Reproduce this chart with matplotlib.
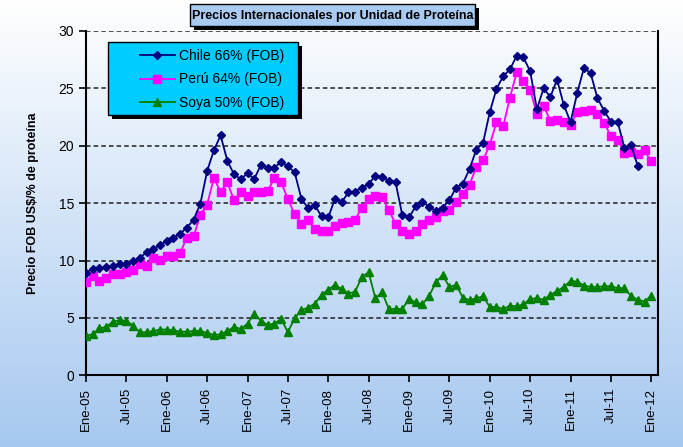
import numpy as np
import matplotlib
matplotlib.use('Agg')
import matplotlib.pyplot as plt
from matplotlib.patches import Rectangle

plt.rcParams['font.family'] = ['Liberation Sans', 'DejaVu Sans']

# monthly data, Ene-05 .. Ene-12
tick_labels = ['Ene-05', 'Jul-05', 'Ene-06', 'Jul-06', 'Ene-07', 'Jul-07', 'Ene-08',
               'Jul-08', 'Ene-09', 'Jul-09', 'Ene-10', 'Jul-10', 'Ene-11', 'Jul-11', 'Ene-12']

chile = [8.95, 9.27, 9.32, 9.4, 9.55, 9.66, 9.66, 9.94, 10.26, 10.7, 11.0, 11.36, 11.7, 12.0,
         12.35, 12.87, 13.57, 14.96, 17.8, 19.6, 20.9,
         18.7, 17.5, 17.1, 17.6, 17.1, 18.35, 18.1, 18.1, 18.6, 18.2, 17.7, 15.4, 14.56, 14.8,
         13.86, 13.75, 15.4, 15.08, 15.95, 16.0, 16.36,
         16.65, 17.4, 17.3, 16.94, 16.8, 13.97, 13.75, 14.73, 15.14, 14.67, 14.33, 14.62, 15.26,
         16.36, 16.7, 17.98, 19.67, 20.25, 22.93, 24.96, 26.07, 26.65,
         27.85, 27.7, 26.5, 23.2, 25.0, 24.26, 25.76, 23.56, 22.06, 24.6, 26.8, 26.3, 24.15,
         23.04, 22.1, 22.1, 19.84, 20.08, 18.22]

peru = [8.1, 8.63, 8.23, 8.49, 8.83, 8.83, 8.98, 9.21, 9.68, 9.56, 10.2, 10.08, 10.4, 10.4,
        10.67, 12.0, 12.1, 14.0, 14.88, 17.17, 16.0,
        16.8, 15.26, 15.95, 15.6, 15.95, 16.0, 16.07, 17.17, 16.8, 15.37, 14.04, 13.2, 13.57,
        12.76, 12.58, 12.58, 13.05, 13.28, 13.34, 13.57, 14.62,
        15.37, 15.66, 15.54, 14.38, 13.22, 12.58, 12.35, 12.58, 13.22, 13.57, 13.8, 14.33, 14.38,
        15.08, 15.84, 16.6, 18.16, 18.74, 20.08, 22.06, 21.7, 24.2,
        26.4, 25.66, 24.9, 22.75, 23.5, 22.17, 22.23, 22.1, 21.77, 22.98, 23.0, 23.1, 22.75,
        22.0, 20.84, 20.5, 19.4, 19.5, 19.27, 19.6, 18.63]

soya = [3.46, 3.57, 4.1, 4.21, 4.68, 4.8, 4.74, 4.33, 3.75, 3.75, 3.86, 3.98, 3.98, 3.92,
        3.8, 3.8, 3.86, 3.86, 3.69, 3.51, 3.57,
        3.86, 4.21, 4.04, 4.5, 5.38, 4.74, 4.39, 4.5, 4.91, 3.75, 4.97, 5.67, 5.9, 6.25, 7.0,
        7.47, 7.88, 7.53, 7.12, 7.3, 8.57,
        8.98, 6.71, 7.24, 5.78, 5.78, 5.78, 6.65, 6.36, 6.19, 6.94, 8.1, 8.74, 7.7, 7.88, 6.77,
        6.54, 6.71, 6.89, 5.96, 5.96, 5.78, 6.07,
        6.0, 6.19, 6.65, 6.71, 6.6, 7.0, 7.35, 7.7, 8.22, 8.16, 7.82, 7.7, 7.7, 7.76, 7.76,
        7.59, 7.59, 6.89, 6.6, 6.42, 6.94]

W, H = 683, 447
fig = plt.figure(figsize=(W / 100, H / 100), dpi=100)


def fx(px):
    return px / W


def fy(py):
    return 1 - py / H


# background gradient over the whole figure
bg = fig.add_axes([0, 0, 1, 1], zorder=-10)
grad = np.linspace(0, 1, 256).reshape(-1, 1)
top = np.array([1.0, 1.0, 1.0])
bottom = np.array([166, 200, 240]) / 255
img = top + (bottom - top) * grad[:, :, None]
bg.imshow(img, aspect='auto', extent=[0, 1, 0, 1])
bg.axis('off')

ax = fig.add_axes([fx(86), fy(375.3), fx(658) - fx(86), fy(31) - fy(375.3)])
ax.patch.set_alpha(0)

x = np.arange(len(peru))
ax.plot(x[:len(chile)], chile, color='#000080', lw=1.3, marker='D', ms=4.2,
        label='Chile 66% (FOB)', zorder=4)
ax.plot(x, peru, color='#FF00FF', lw=1.3, marker='s', ms=6,
        label='Perú 64% (FOB)', zorder=3)
ax.plot(x, soya, color='#008000', lw=1.3, marker='^', ms=6,
        label='Soya 50% (FOB)', zorder=3)

ax.set_xlim(0, 85)
ax.set_ylim(0, 30)
ax.set_yticks(range(0, 31, 5))
ax.set_xticks(range(0, 85, 6))
ax.set_xticklabels(tick_labels, rotation=90, fontsize=9.5)
ax.tick_params(axis='y', labelsize=10, length=5, width=1.2, direction='out')
ax.tick_params(axis='x', length=5, width=1.2, direction='out', pad=4)

for v in range(5, 31, 5):
    ax.axhline(v, color='#222222', lw=1.1, ls=(0, (3, 2)), zorder=1)

ax.spines['top'].set_visible(False)
for s in ['left', 'bottom', 'right']:
    ax.spines[s].set_linewidth(1.5)
    ax.spines[s].set_color('black')

ax.set_ylabel('Precio FOB US$/% de proteína', fontsize=9, fontweight='bold', labelpad=14)

# title box with shadow
ax.add_patch(Rectangle((fx(194), fy(30)), fx(285), fy(8) - fy(30), transform=fig.transFigure,
                       facecolor='black', edgecolor='none', zorder=5, clip_on=False))
ax.add_patch(Rectangle((fx(190), fy(26)), fx(285), fy(4) - fy(26), transform=fig.transFigure,
                       facecolor='#A9CBF2', edgecolor='black', lw=1, zorder=6, clip_on=False))
ax.text(fx(332.5), fy(15.5), 'Precios Internacionales por Unidad de Proteína',
        transform=fig.transFigure, fontsize=9, fontweight='bold',
        ha='center', va='center', zorder=7)

# legend box with shadow
ax.add_patch(Rectangle((fx(112), fy(119)), fx(190), fy(46) - fy(119), transform=fig.transFigure,
                       facecolor='black', edgecolor='none', zorder=5, clip_on=False))
ax.add_patch(Rectangle((fx(108), fy(115)), fx(190), fy(42) - fy(115), transform=fig.transFigure,
                       facecolor='#00CCFF', edgecolor='black', lw=1, zorder=6, clip_on=False))
leg = ax.legend(loc='upper left', bbox_to_anchor=(fx(133), fy(42)),
                bbox_transform=fig.transFigure,
                frameon=False, fontsize=10, borderpad=0, labelspacing=0.68,
                handlelength=2.5, handletextpad=0.3)
leg.set_zorder(8)

fig.savefig('out.png', dpi=100)
